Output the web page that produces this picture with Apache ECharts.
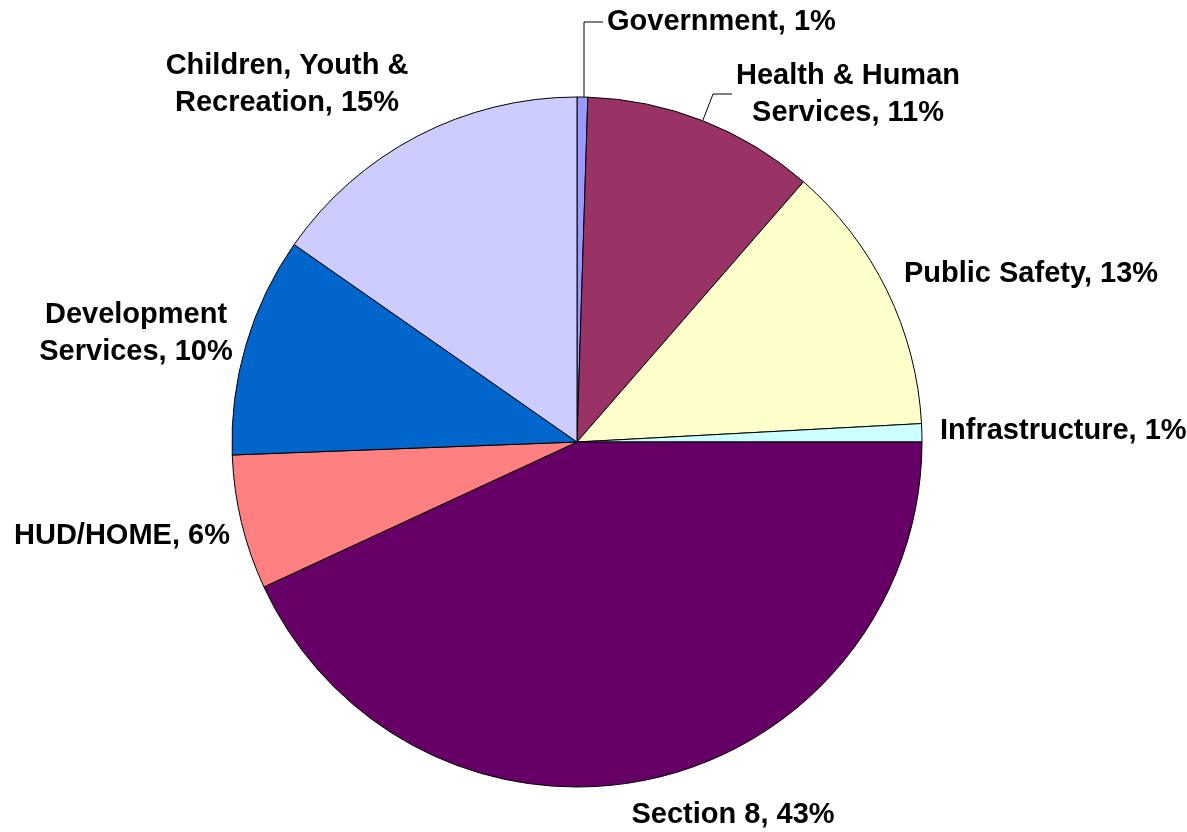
<!DOCTYPE html>
<html>
<head>
<meta charset="utf-8">
<title>Budget pie</title>
<script src="https://cdn.jsdelivr.net/npm/echarts@6/dist/echarts.min.js"></script>
<style>
  html, body { margin: 0; padding: 0; background: #fff; }
  #chart { width: 1187px; height: 832px; }
</style>
</head>
<body>
<div id="chart"></div>
<script>
// 分类名称（顺时针，从正上方开始）
const categories = [
  'Government',
  'Health & Human\nServices',
  'Public Safety',
  'Infrastructure',
  'Section 8',
  'HUD/HOME',
  'Development\nServices',
  'Children, Youth &\nRecreation'
];
// 各扇区占比
const values = [0.5, 10.9, 12.75, 0.85, 43.1, 6.3, 10.3, 15.3];
// 标签上显示的百分比
const labelPct = [1, 11, 13, 1, 43, 6, 10, 15];
const colors = ['#9999FF', '#993366', '#FFFFCC', '#CCFFFF', '#660066', '#FF8080', '#0066CC', '#CCCCFF'];

// 标签位置（像素）
const labelPlace = [
  { x: 607, y: 22, align: 'left', line: [[584, 98], [584, 22], [603, 22]] },
  { x: 848, y: 94, align: 'center', line: [[703, 120], [713, 94], [732, 94]] },
  { x: 1031, y: 274, align: 'center' },
  { x: 940, y: 431, align: 'left' },
  { x: 733, y: 815, align: 'center' },
  { x: 122, y: 536, align: 'center' },
  { x: 136, y: 333, align: 'center' },
  { x: 287, y: 84, align: 'center' }
];

const chart = echarts.init(document.getElementById('chart'));
const option = {
  animation: false,
  series: [{
    type: 'pie',
    center: [577, 442],
    radius: 345,
    startAngle: 90,
    clockwise: true,
    avoidLabelOverlap: false,
    itemStyle: {
      borderColor: '#000',
      borderWidth: 1
    },
    label: {
      show: true,
      position: 'outside',
      color: '#000',
      fontFamily: '"Liberation Sans", Arial, sans-serif',
      fontWeight: 'bold',
      fontSize: 29,
      lineHeight: 37,
      align: 'center',
      formatter: function (p) {
        return p.name + ', ' + labelPct[p.dataIndex] + '%';
      }
    },
    labelLine: {
      show: false,
      lineStyle: { color: '#000', width: 1 }
    },
    labelLayout: function (params) {
      const pl = labelPlace[params.dataIndex];
      const out = {
        x: pl.x,
        y: pl.y,
        align: pl.align,
        verticalAlign: 'middle'
      };
      if (pl.line) {
        out.labelLinePoints = pl.line;
      }
      return out;
    },
    data: categories.map(function (name, i) {
      const item = {
        name: name,
        value: values[i],
        itemStyle: { color: colors[i] }
      };
      if (labelPlace[i].line) {
        item.labelLine = { show: true, lineStyle: { color: '#000', width: 1 } };
      }
      return item;
    })
  }]
};
chart.setOption(option);
</script>
</body>
</html>
